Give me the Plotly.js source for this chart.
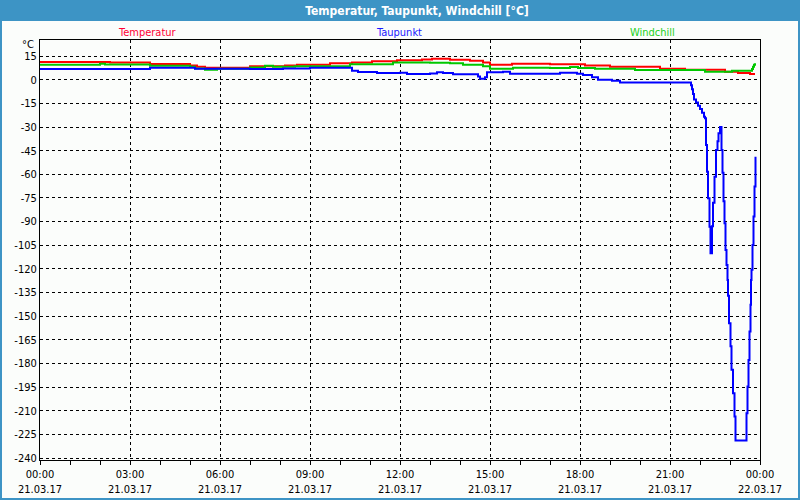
<!DOCTYPE html>
<html>
<head>
<meta charset="utf-8">
<script src="https://cdn.plot.ly/plotly-3.0.1.min.js"></script>
<style>
html,body{margin:0;padding:0;background:#fbfdfb;}
#chart{width:800px;height:500px;}
</style>
</head>
<body>
<div id="chart"></div>
<script>
// ---- data ----
const day = '2017-03-21';
const nextDay = '2017-03-22';

const tempTimes = ['00:00','02:20','03:40','05:00','05:14','05:30','07:00','08:10','08:34','09:40','10:24','11:04','11:54','12:44','13:04','13:40','14:20','14:46','15:00','15:44','17:00','18:10','19:00','20:40','21:30','22:50','23:16','23:40','23:50'];
const tempValues = [11.2,11.0,10.0,9.1,8.2,7.6,8.5,9.1,9.5,10.4,11.0,11.7,12.3,12.9,13.3,12.7,12.0,11.0,9.5,10.1,9.8,9.1,8.2,7.0,6.3,5.1,4.2,3.6,3.6];

const chillTimes = ['00:00','02:00','02:10','03:40','05:00','05:10','05:30','05:54','07:00','07:30','07:46','08:30','10:20','11:46','13:00','13:40','14:06','14:46','15:00','15:46','17:00','17:40','17:56','18:30','19:50','22:10','23:04','23:44','23:46','23:48','23:50'];
const chillValues = [9.5,10.1,9.6,8.9,8.2,7.2,6.3,7.0,7.8,8.9,8.2,8.5,9.8,11.0,10.8,10.4,9.5,8.5,7.0,7.6,7.4,8.1,7.4,7.0,6.1,5.1,5.7,6.8,8.2,9.5,10.4];

const dewTimes = ['00:00','03:40','05:10','07:00','08:06','09:00','10:24','10:36','11:14','12:00','12:14','13:00','13:14','13:26','13:46','14:30','14:36','14:40','14:50','14:54','15:26','15:40','17:00','17:20','17:54','18:06','18:24','18:36','19:04','19:20','21:40','21:42','21:44','21:46','21:48','21:52','21:56','22:00','22:04','22:08','22:10','22:12','22:14','22:16','22:19','22:21','22:24','22:26','22:29','22:32','22:35','22:37','22:40','22:43','22:45','22:47','22:49','22:51','22:53','22:55','22:56','22:58','23:01','23:03','23:06','23:09','23:11','23:32','23:33','23:35','23:37','23:39','23:41','23:42','23:43','23:45','23:47','23:49','23:51'];
const dewValues = [6.8,7.6,7.0,6.8,7.2,7.6,5.7,4.9,4.2,4.4,3.6,3.9,4.7,4.2,3.4,3.4,2.0,0.6,1.5,4.7,5.1,3.8,3.8,4.4,3.8,3.0,1.5,0.0,-0.6,-1.7,-1.7,-3.5,-6.0,-9.0,-12.5,-14.5,-16.5,-18.5,-21.0,-23.5,-24.5,-41.4,-58.3,-75.2,-93.2,-110.0,-93.0,-78.0,-61.5,-44.6,-39.0,-34.0,-30.0,-44.6,-59.0,-77.0,-91.0,-108.0,-117.5,-127.0,-137.0,-154.4,-169.0,-184.0,-198.8,-213.6,-228.8,-228.8,-211.5,-194.6,-177.7,-159.7,-142.8,-127.0,-120.6,-104.8,-86.8,-67.8,-48.8];

const yTickValues = [15,0,-15,-30,-45,-60,-75,-90,-105,-120,-135,-150,-165,-180,-195,-210,-225,-240];
const xTickTimes = ['2017-03-21 00:00','2017-03-21 03:00','2017-03-21 06:00','2017-03-21 09:00','2017-03-21 12:00','2017-03-21 15:00','2017-03-21 18:00','2017-03-21 21:00','2017-03-22 00:00'];
const xTickLabels = ['00:00<br>21.03.17','03:00<br>21.03.17','06:00<br>21.03.17','09:00<br>21.03.17','12:00<br>21.03.17','15:00<br>21.03.17','18:00<br>21.03.17','21:00<br>21.03.17','00:00<br>22.03.17'];

const seriesNames = ['Temperatur','Taupunkt','Windchill'];
const chartTitle = 'Temperatur, Taupunkt, Windchill [°C]';
const unitLabel = '°C';

// ---- styling ----
const FONT = 'Tahoma, "DejaVu Sans Condensed", "Liberation Sans", sans-serif';
const W = 800, H = 500, ML = 40, MR = 40, MT = 40, MB = 40;
const PW = W - ML - MR, PH = H - MT - MB;
const px = x => (x - ML) / PW;
const py = y => (H - MB - y) / PH;

const toX = arr => arr.map(t => day + ' ' + t);

const traces = [
  {x: toX(tempTimes), y: tempValues, name: seriesNames[0], mode: 'lines', line: {color: '#ff0000', width: 2, shape: 'hv'}},
  {x: toX(chillTimes), y: chillValues, name: seriesNames[2], mode: 'lines', line: {color: '#00c800', width: 2, shape: 'hv'}},
  {x: toX(dewTimes), y: dewValues, name: seriesNames[1], mode: 'lines', line: {color: '#0000ff', width: 2, shape: 'hv'}}
];

const layout = {
  width: W, height: H,
  margin: {l: ML, r: MR, t: MT, b: MB, pad: 0},
  paper_bgcolor: '#fbfdfb',
  plot_bgcolor: '#fbfdfb',
  showlegend: false,
  font: {family: FONT, size: 11, color: '#000'},
  title: {
    text: chartTitle,
    x: 417 / W, xanchor: 'center', xref: 'container',
    y: 1 - 10.5 / H, yanchor: 'middle', yref: 'container',
    font: {family: FONT, size: 12, color: '#ffffff', weight: 'bold'}
  },
  xaxis: {
    type: 'date',
    range: [day + ' 00:00', nextDay + ' 00:00'],
    tickmode: 'array', tickvals: xTickTimes, ticktext: xTickLabels,
    ticks: 'outside', ticklen: 4, tickcolor: '#000', tickwidth: 1,
    minor: {ticks: 'outside', ticklen: 4, tickcolor: '#000', dtick: 3600000, tick0: day + ' 00:00', showgrid: false},
    showgrid: true, gridcolor: '#000', gridwidth: 1, griddash: '3px,3px',
    showline: true, linecolor: '#000', linewidth: 1, mirror: true,
    zeroline: false,
    tickfont: {family: FONT, size: 11, color: '#000'},
    fixedrange: true
  },
  yaxis: {
    range: [-241.2, 25.2],
    tickmode: 'array', tickvals: yTickValues, ticktext: yTickValues.map(String),
    ticks: '', 
    showgrid: true, gridcolor: '#000', gridwidth: 1, griddash: '3px,3px',
    showline: true, linecolor: '#000', linewidth: 1, mirror: true,
    zeroline: false,
    tickfont: {family: FONT, size: 11, color: '#000'},
    fixedrange: true
  },
  shapes: [
    {type: 'rect', xref: 'paper', yref: 'paper', x0: px(0), x1: px(W), y0: py(21), y1: py(0),
     fillcolor: '#3d94c5', line: {width: 0}, layer: 'below'},
    {type: 'rect', xref: 'paper', yref: 'paper', x0: px(1), x1: px(W - 1), y0: py(H - 1), y1: py(1),
     fillcolor: 'rgba(0,0,0,0)', line: {width: 2, color: '#3d94c5'}, layer: 'above'}
  ],
  annotations: [
    {text: seriesNames[0], xref: 'paper', yref: 'paper', x: px(147), y: py(32), xanchor: 'center', yanchor: 'middle', showarrow: false, font: {family: FONT, size: 11, color: '#ff0033'}},
    {text: seriesNames[1], xref: 'paper', yref: 'paper', x: px(399), y: py(32), xanchor: 'center', yanchor: 'middle', showarrow: false, font: {family: FONT, size: 11, color: '#1a1aff'}},
    {text: seriesNames[2], xref: 'paper', yref: 'paper', x: px(652), y: py(32), xanchor: 'center', yanchor: 'middle', showarrow: false, font: {family: FONT, size: 11, color: '#22d022'}},
    {text: unitLabel, xref: 'paper', yref: 'paper', x: px(36), y: py(45), xanchor: 'right', yanchor: 'middle', showarrow: false, font: {family: FONT, size: 11, color: '#000'}}
  ]
};

Plotly.newPlot('chart', traces, layout, {staticPlot: true, displayModeBar: false});
</script>
</body>
</html>
